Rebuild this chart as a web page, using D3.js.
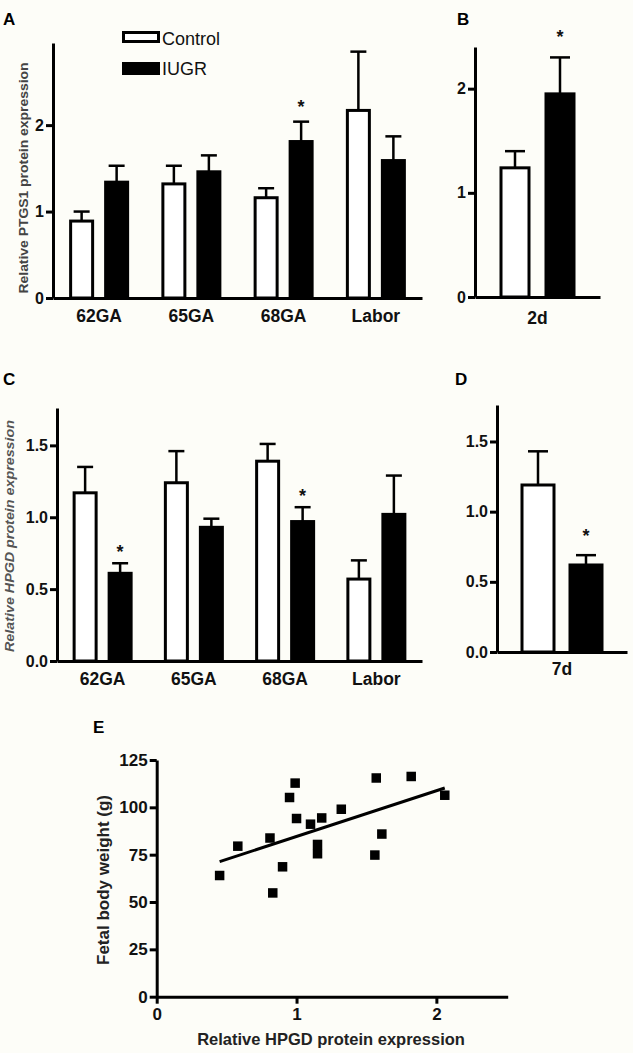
<!DOCTYPE html>
<html>
<head>
<meta charset="utf-8">
<script src="https://cdn.jsdelivr.net/npm/d3@7"></script>
<style>
  body { margin: 0; background: #fdfdf8; }
  svg { display: block; font-family: Arial, "Liberation Sans", sans-serif; }
</style>
</head>
<body>
<svg id="chart" width="633" height="1053"></svg>
<script>
// ---------------- DATA ----------------
const seriesNames = ["Control", "IUGR"];

// Panel A: PTGS1 by gestational age
const catsA = ["62GA", "65GA", "68GA", "Labor"];
const ptgs1Control    = [0.89, 1.32, 1.16, 2.17];
const ptgs1ControlErr = [0.11, 0.21, 0.11, 0.68];
const ptgs1IUGR       = [1.34, 1.46, 1.81, 1.59];
const ptgs1IUGRErr    = [0.19, 0.19, 0.23, 0.28];
const ptgs1IUGRSig    = [false, false, true, false];
const ticksA = [0, 1, 2];

// Panel B: PTGS1 at 2d
const catsB = ["2d"];
const ptgs1Control2d    = [1.24];
const ptgs1ControlErr2d = [0.16];
const ptgs1IUGR2d       = [1.95];
const ptgs1IUGRErr2d    = [0.35];
const ptgs1IUGRSig2d    = [true];
const ticksB = [0, 1, 2];

// Panel C: HPGD by gestational age
const catsC = ["62GA", "65GA", "68GA", "Labor"];
const hpgdControl    = [1.17, 1.24, 1.39, 0.57];
const hpgdControlErr = [0.18, 0.22, 0.12, 0.13];
const hpgdIUGR       = [0.61, 0.93, 0.97, 1.02];
const hpgdIUGRErr    = [0.07, 0.06, 0.10, 0.27];
const hpgdIUGRSig    = [true, false, true, false];
const ticksC = [0, 0.5, 1.0, 1.5];

// Panel D: HPGD at 7d
const catsD = ["7d"];
const hpgdControl7d    = [1.19];
const hpgdControlErr7d = [0.24];
const hpgdIUGR7d       = [0.62];
const hpgdIUGRErr7d    = [0.07];
const hpgdIUGRSig7d    = [true];
const ticksD = [0, 0.5, 1.0, 1.5];

// Panel E: scatter
const hpgdExpr   = [0.45, 0.58, 0.81, 0.83, 0.90, 0.95, 0.99, 1.00, 1.10, 1.18, 1.15, 1.15, 1.32, 1.57, 1.61, 1.56, 1.82, 2.06];
const fetalWeight = [64.0, 79.5, 83.8, 54.8, 68.6, 105.2, 112.8, 94.1, 91.1, 94.4, 80.4, 75.5, 99.0, 115.5, 85.9, 74.8, 116.3, 106.4];
const fitLineX = [0.45, 2.06];
const fitLineY = [71.3, 110.2];
const ticksEx = [0, 1, 2];
const ticksEy = [0, 25, 50, 75, 100, 125];

// ---------------- DRAW ----------------
const svg = d3.select("#chart");
svg.append("rect").attr("width", 633).attr("height", 1053).attr("fill", "#fdfdf8");

function barPanel(cfg) {
  const g = svg.append("g");
  const y = d3.scaleLinear().domain([0, cfg.yMax]).range([cfg.base, cfg.top]);
  const x0 = d3.scaleBand().domain(cfg.cats).range([cfg.left, cfg.right]).padding(0);
  const half = (cfg.step + cfg.bw) / 2;
  const x1 = d3.scaleBand().domain(seriesNames).range([-half, half])
    .paddingInner((cfg.step - cfg.bw) / cfg.step).paddingOuter(0);

  const rows = [];
  cfg.cats.forEach((c, i) => {
    rows.push({cat: c, s: "Control", v: cfg.ctrl[i], e: cfg.ctrlErr[i], sig: false});
    rows.push({cat: c, s: "IUGR", v: cfg.iugr[i], e: cfg.iugrErr[i], sig: cfg.sig[i]});
  });
  const cx = d => x0(d.cat) + x0.bandwidth() / 2 + x1(d.s) + x1.bandwidth() / 2;

  // error bars (behind bars)
  g.selectAll(".err").data(rows).join("line")
    .attr("x1", cx).attr("x2", cx)
    .attr("y1", d => y(d.v)).attr("y2", d => y(d.v + d.e))
    .attr("stroke", "#000").attr("stroke-width", 2.5);
  g.selectAll(".cap").data(rows).join("line")
    .attr("x1", d => cx(d) - cfg.cap / 2).attr("x2", d => cx(d) + cfg.cap / 2)
    .attr("y1", d => y(d.v + d.e)).attr("y2", d => y(d.v + d.e))
    .attr("stroke", "#000").attr("stroke-width", 2.5);

  // bars
  g.selectAll(".bar").data(rows).join("rect")
    .attr("x", d => cx(d) - x1.bandwidth() / 2)
    .attr("width", x1.bandwidth())
    .attr("y", d => y(d.v))
    .attr("height", d => y(0) - y(d.v))
    .attr("fill", d => d.s === "Control" ? "#fff" : "#000")
    .attr("stroke", "#000").attr("stroke-width", 3);

  // significance stars
  g.selectAll(".star").data(rows.filter(d => d.sig)).join("text")
    .attr("x", cx).attr("y", d => y(d.v + d.e) - cfg.starGap)
    .attr("text-anchor", "middle").attr("font-size", 18).attr("font-weight", "bold")
    .attr("fill", "#111").text("*");

  // y axis
  const ya = g.append("g").attr("transform", `translate(${cfg.left},0)`)
    .call(d3.axisLeft(y).tickValues(cfg.ticks).tickFormat(d3.format(cfg.fmt))
      .tickSize(cfg.tickLen).tickSizeOuter(0).tickPadding(2));
  ya.select(".domain").attr("stroke-width", 3);
  ya.selectAll(".tick line").attr("stroke-width", 3);
  ya.selectAll(".tick text").attr("font-size", 16).attr("font-weight", "bold").attr("fill", "#111");

  // x axis
  const xa = g.append("g").attr("transform", `translate(0,${cfg.base})`)
    .call(d3.axisBottom(x0).tickSize(0).tickSizeOuter(0).tickPadding(cfg.labPad));
  xa.select(".domain").attr("stroke-width", 3);
  xa.selectAll(".tick text").attr("font-size", 17.5).attr("font-weight", "bold").attr("fill", "#111");
  g.selectAll(".domain").attr("stroke", "#000");
  return g;
}

barPanel({cats: catsA, ctrl: ptgs1Control, ctrlErr: ptgs1ControlErr, iugr: ptgs1IUGR, iugrErr: ptgs1IUGRErr,
  sig: ptgs1IUGRSig, ticks: ticksA, fmt: "d", yMax: 2.95, left: 53, right: 422, base: 298, top: 43,
  step: 35, bw: 22, cap: 16, starGap: 9, tickLen: 7, labPad: 12});
barPanel({cats: catsB, ctrl: ptgs1Control2d, ctrlErr: ptgs1ControlErr2d, iugr: ptgs1IUGR2d, iugrErr: ptgs1IUGRErr2d,
  sig: ptgs1IUGRSig2d, ticks: ticksB, fmt: "d", yMax: 2.4, left: 475, right: 600, base: 297, top: 47,
  step: 45, bw: 28, cap: 20, starGap: 14, tickLen: 7, labPad: 15});
barPanel({cats: catsC, ctrl: hpgdControl, ctrlErr: hpgdControlErr, iugr: hpgdIUGR, iugrErr: hpgdIUGRErr,
  sig: hpgdIUGRSig, ticks: ticksC, fmt: ".1f", yMax: 1.76, left: 57, right: 422, base: 661, top: 408,
  step: 35, bw: 22, cap: 16, starGap: 5, tickLen: 7, labPad: 12});
barPanel({cats: catsD, ctrl: hpgdControl7d, ctrlErr: hpgdControlErr7d, iugr: hpgdIUGR7d, iugrErr: hpgdIUGRErr7d,
  sig: hpgdIUGRSig7d, ticks: ticksD, fmt: ".1f", yMax: 1.76, left: 497, right: 627, base: 652, top: 405,
  step: 48, bw: 32, cap: 20, starGap: 13, tickLen: 7, labPad: 11});

// legend (panel A)
const leg = svg.append("g");
seriesNames.forEach((s, i) => {
  if (s === "Control") {
    leg.append("rect").attr("x", 123.5).attr("y", 32.5).attr("width", 35).attr("height", 9)
      .attr("fill", "#fff").attr("stroke", "#000").attr("stroke-width", 3);
  } else {
    leg.append("rect").attr("x", 122).attr("y", 62).attr("width", 38).attr("height", 13).attr("fill", "#000");
  }
  leg.append("text").attr("x", 162).attr("y", i === 0 ? 45 : 75)
    .attr("font-size", 18).attr("fill", "#111").text(s);
});

// y-axis titles A and C
svg.append("text").attr("transform", "translate(24,178) rotate(-90)")
  .attr("text-anchor", "middle").attr("dominant-baseline", "central")
  .attr("font-size", 12).attr("font-weight", "bold").attr("fill", "#444")
  .attr("textLength", 231).attr("lengthAdjust", "spacingAndGlyphs")
  .text("Relative PTGS1 protein expression");
svg.append("text").attr("transform", "translate(9,536) rotate(-90)")
  .attr("text-anchor", "middle").attr("dominant-baseline", "central")
  .attr("font-size", 13).attr("font-style", "italic").attr("font-weight", "bold").attr("fill", "#555")
  .attr("textLength", 232).attr("lengthAdjust", "spacingAndGlyphs")
  .text("Relative HPGD protein expression");

// panel letters
[["A", 3, 25], ["B", 457, 25], ["C", 3, 385], ["D", 455, 385], ["E", 93, 733]].forEach(([t, x, y]) => {
  svg.append("text").attr("x", x).attr("y", y).attr("font-size", 17).attr("font-weight", "bold")
    .attr("fill", "#000").text(t);
});

// ---------------- Panel E scatter ----------------
const gE = svg.append("g");
const xE = d3.scaleLinear().domain([0, 2.51]).range([156.7, 507.7]);
const yE = d3.scaleLinear().domain([0, 125]).range([996.7, 760]);

gE.append("line")
  .attr("x1", xE(fitLineX[0])).attr("y1", yE(fitLineY[0]))
  .attr("x2", xE(fitLineX[1])).attr("y2", yE(fitLineY[1]))
  .attr("stroke", "#000").attr("stroke-width", 3);

const sq = 9.5;
gE.selectAll(".pt").data(hpgdExpr.map((x, i) => [x, fetalWeight[i]])).join("rect")
  .attr("x", d => xE(d[0]) - sq / 2).attr("y", d => yE(d[1]) - sq / 2)
  .attr("width", sq).attr("height", sq).attr("fill", "#000");

const yaE = gE.append("g").attr("transform", "translate(156.7,0)")
  .call(d3.axisLeft(yE).tickValues(ticksEy).tickSize(7).tickSizeOuter(0).tickPadding(2));
const xaE = gE.append("g").attr("transform", "translate(0,996.7)")
  .call(d3.axisBottom(xE).tickValues(ticksEx).tickFormat(d3.format("d")).tickSize(7).tickSizeOuter(0).tickPadding(4));
[yaE, xaE].forEach(a => {
  a.select(".domain").attr("stroke-width", 3).attr("stroke", "#000");
  a.selectAll(".tick line").attr("stroke-width", 3);
  a.selectAll(".tick text").attr("font-size", 17).attr("font-weight", "bold").attr("fill", "#111");
});

gE.append("text").attr("transform", "translate(103,880) rotate(-90)")
  .attr("text-anchor", "middle").attr("dominant-baseline", "central")
  .attr("font-size", 17).attr("font-weight", "bold").attr("fill", "#222")
  .text("Fetal body weight (g)");
gE.append("text").attr("x", 331).attr("y", 1045).attr("text-anchor", "middle")
  .attr("font-size", 16.5).attr("font-weight", "bold").attr("fill", "#222")
  .text("Relative HPGD protein expression");
</script>
</body>
</html>
